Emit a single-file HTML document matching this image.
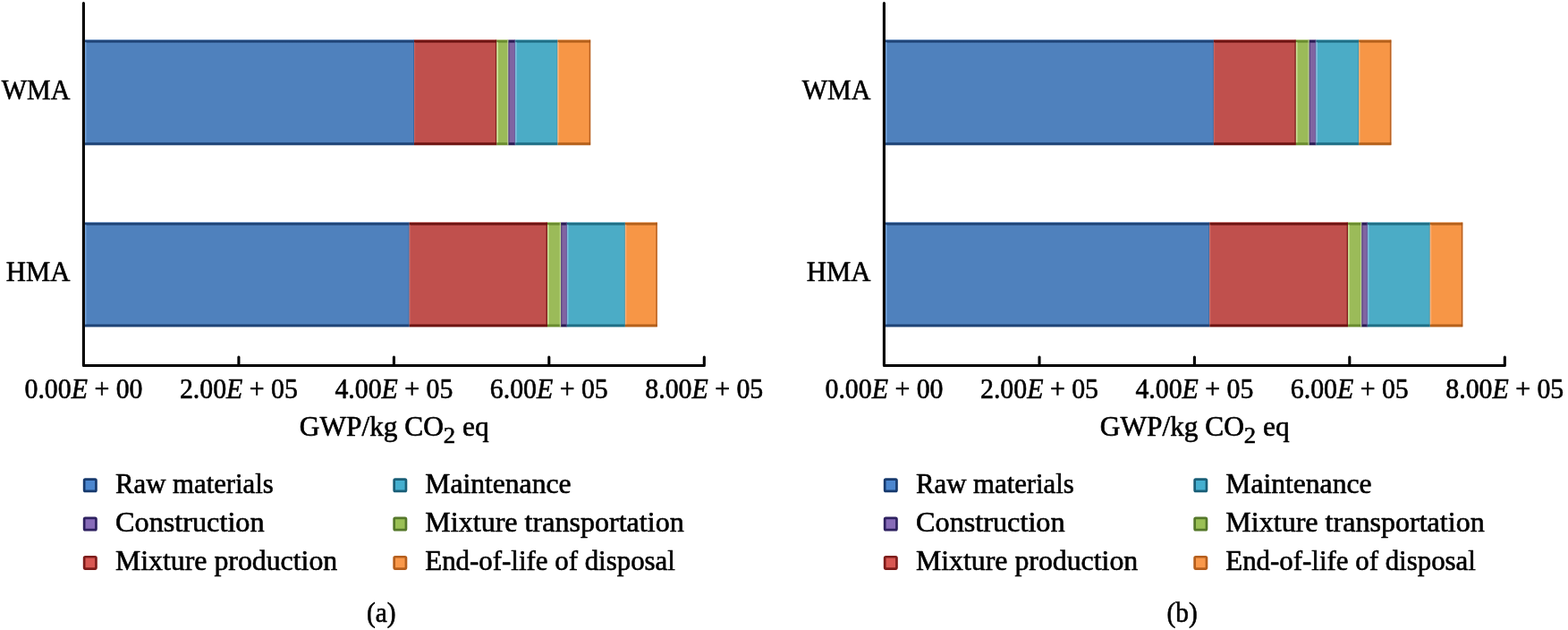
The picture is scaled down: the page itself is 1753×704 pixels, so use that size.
<!DOCTYPE html>
<html lang="en">
<head>
<meta charset="utf-8">
<title>GWP of WMA and HMA</title>
<style>
html,body{margin:0;padding:0;background:#fff;}
body{width:1753px;height:704px;overflow:hidden;}
svg{display:block;filter:blur(0.45px);}
text{font-family:"Liberation Serif",serif;fill:#000;stroke:#000;stroke-width:0.6px;stroke-linejoin:round;}
</style>
</head>
<body>
<svg width="1753" height="704" viewBox="0 0 1753 704">
<defs>
<linearGradient id="g_blue" x1="0" y1="0" x2="0" y2="1">
<stop offset="0" stop-color="#6f9bd1"/><stop offset="0.010" stop-color="#1f4477"/><stop offset="0.025" stop-color="#1f4477"/><stop offset="0.034" stop-color="#4f81bd"/>
<stop offset="0.969" stop-color="#4f81bd"/><stop offset="0.979" stop-color="#1f4477"/><stop offset="0.994" stop-color="#1f4477"/><stop offset="1" stop-color="#1f4477"/>
</linearGradient>
<linearGradient id="g_red" x1="0" y1="0" x2="0" y2="1">
<stop offset="0" stop-color="#cf6764"/><stop offset="0.010" stop-color="#6e1412"/><stop offset="0.025" stop-color="#6e1412"/><stop offset="0.034" stop-color="#c0504d"/>
<stop offset="0.969" stop-color="#c0504d"/><stop offset="0.979" stop-color="#6e1412"/><stop offset="0.994" stop-color="#6e1412"/><stop offset="1" stop-color="#6e1412"/>
</linearGradient>
<linearGradient id="g_green" x1="0" y1="0" x2="0" y2="1">
<stop offset="0" stop-color="#c3d88c"/><stop offset="0.010" stop-color="#6a8c2f"/><stop offset="0.025" stop-color="#6a8c2f"/><stop offset="0.034" stop-color="#9bbb59"/>
<stop offset="0.969" stop-color="#9bbb59"/><stop offset="0.979" stop-color="#6a8c2f"/><stop offset="0.994" stop-color="#6a8c2f"/><stop offset="1" stop-color="#6a8c2f"/>
</linearGradient>
<linearGradient id="g_purple" x1="0" y1="0" x2="0" y2="1">
<stop offset="0" stop-color="#9a82b8"/><stop offset="0.010" stop-color="#2a1d55"/><stop offset="0.025" stop-color="#2a1d55"/><stop offset="0.034" stop-color="#8064a2"/>
<stop offset="0.969" stop-color="#8064a2"/><stop offset="0.979" stop-color="#2a1d55"/><stop offset="0.994" stop-color="#2a1d55"/><stop offset="1" stop-color="#2a1d55"/>
</linearGradient>
<linearGradient id="g_cyan" x1="0" y1="0" x2="0" y2="1">
<stop offset="0" stop-color="#7dc3d8"/><stop offset="0.010" stop-color="#1f6f86"/><stop offset="0.025" stop-color="#1f6f86"/><stop offset="0.034" stop-color="#4bacc6"/>
<stop offset="0.969" stop-color="#4bacc6"/><stop offset="0.979" stop-color="#1f6f86"/><stop offset="0.994" stop-color="#1f6f86"/><stop offset="1" stop-color="#1f6f86"/>
</linearGradient>
<linearGradient id="g_orange" x1="0" y1="0" x2="0" y2="1">
<stop offset="0" stop-color="#f9b27a"/><stop offset="0.010" stop-color="#b5611b"/><stop offset="0.025" stop-color="#b5611b"/><stop offset="0.034" stop-color="#f79646"/>
<stop offset="0.969" stop-color="#f79646"/><stop offset="0.979" stop-color="#b5611b"/><stop offset="0.994" stop-color="#b5611b"/><stop offset="1" stop-color="#b5611b"/>
</linearGradient>
</defs>
<rect x="0" y="0" width="1753" height="704" fill="#fff"/>
<g>
<rect x="94.9" y="44.2" width="368.1" height="118.1" fill="url(#g_blue)"/>
<rect x="94.9" y="47.2" width="1.6" height="112.1" fill="#7aa7de" opacity="0.9"/>
<rect x="462.0" y="44.7" width="1.0" height="117.1" fill="#2a4f86" opacity="0.5"/>
<rect x="463.0" y="44.2" width="92.4" height="118.1" fill="url(#g_red)"/>
<rect x="463.0" y="47.2" width="1.2" height="112.1" fill="#d0706d" opacity="0.6"/>
<rect x="553.9" y="44.7" width="1.5" height="117.1" fill="#6e1412" opacity="0.75"/>
<rect x="555.4" y="44.2" width="13.0" height="118.1" fill="url(#g_green)"/>
<rect x="555.4" y="47.2" width="1.6" height="112.1" fill="#cfe29a" opacity="0.95"/>
<rect x="567.1" y="44.7" width="1.3" height="117.1" fill="#c6dba0" opacity="0.8"/>
<rect x="568.4" y="44.2" width="7.8" height="118.1" fill="url(#g_purple)"/>
<rect x="568.4" y="47.2" width="1.2" height="112.1" fill="#3c2c66" opacity="0.6"/>
<rect x="575.0" y="44.7" width="1.2" height="117.1" fill="#5f5f9e" opacity="0.6"/>
<rect x="576.2" y="44.2" width="47.3" height="118.1" fill="url(#g_cyan)"/>
<rect x="576.2" y="47.2" width="1.5" height="112.1" fill="#86c0e0" opacity="0.9"/>
<rect x="622.5" y="44.7" width="1.0" height="117.1" fill="#2b7f99" opacity="0.5"/>
<rect x="623.5" y="44.2" width="36.7" height="118.1" fill="url(#g_orange)"/>
<rect x="623.5" y="47.2" width="1.4" height="112.1" fill="#fbb884" opacity="0.8"/>
<rect x="658.7" y="44.7" width="1.5" height="117.1" fill="#a9551a" opacity="0.8"/>
<rect x="94.9" y="248.2" width="362.8" height="117.2" fill="url(#g_blue)"/>
<rect x="94.9" y="251.2" width="1.6" height="111.2" fill="#7aa7de" opacity="0.9"/>
<rect x="456.7" y="248.7" width="1.0" height="116.2" fill="#2a4f86" opacity="0.5"/>
<rect x="457.7" y="248.2" width="154.3" height="117.2" fill="url(#g_red)"/>
<rect x="457.7" y="251.2" width="1.2" height="111.2" fill="#d0706d" opacity="0.6"/>
<rect x="610.5" y="248.7" width="1.5" height="116.2" fill="#6e1412" opacity="0.75"/>
<rect x="612.0" y="248.2" width="15.1" height="117.2" fill="url(#g_green)"/>
<rect x="612.0" y="251.2" width="1.6" height="111.2" fill="#cfe29a" opacity="0.95"/>
<rect x="625.8" y="248.7" width="1.3" height="116.2" fill="#c6dba0" opacity="0.8"/>
<rect x="627.1" y="248.2" width="6.9" height="117.2" fill="url(#g_purple)"/>
<rect x="627.1" y="251.2" width="1.2" height="111.2" fill="#3c2c66" opacity="0.6"/>
<rect x="632.8" y="248.7" width="1.2" height="116.2" fill="#5f5f9e" opacity="0.6"/>
<rect x="634.0" y="248.2" width="64.9" height="117.2" fill="url(#g_cyan)"/>
<rect x="634.0" y="251.2" width="1.5" height="111.2" fill="#86c0e0" opacity="0.9"/>
<rect x="697.9" y="248.7" width="1.0" height="116.2" fill="#2b7f99" opacity="0.5"/>
<rect x="698.9" y="248.2" width="35.9" height="117.2" fill="url(#g_orange)"/>
<rect x="698.9" y="251.2" width="1.4" height="111.2" fill="#fbb884" opacity="0.8"/>
<rect x="733.3" y="248.7" width="1.5" height="116.2" fill="#a9551a" opacity="0.8"/>
<path d="M93.4 3.6 V408.5 H787.3 V399.0" fill="none" stroke="#000" stroke-width="3.1" stroke-linejoin="round" stroke-linecap="round"/>
<path d="M266.9 399.0 V408.5" stroke="#000" stroke-width="3.1" stroke-linecap="round" fill="none"/>
<path d="M440.4 399.0 V408.5" stroke="#000" stroke-width="3.1" stroke-linecap="round" fill="none"/>
<path d="M613.8 399.0 V408.5" stroke="#000" stroke-width="3.1" stroke-linecap="round" fill="none"/>
<text x="27.5" y="445.2" font-size="31.5" text-anchor="start" textLength="132.0" lengthAdjust="spacingAndGlyphs">0.00<tspan font-style="italic">E</tspan> + 00</text>
<text x="200.9" y="445.2" font-size="31.5" text-anchor="start" textLength="132.0" lengthAdjust="spacingAndGlyphs">2.00<tspan font-style="italic">E</tspan> + 05</text>
<text x="374.4" y="445.2" font-size="31.5" text-anchor="start" textLength="132.0" lengthAdjust="spacingAndGlyphs">4.00<tspan font-style="italic">E</tspan> + 05</text>
<text x="547.8" y="445.2" font-size="31.5" text-anchor="start" textLength="132.0" lengthAdjust="spacingAndGlyphs">6.00<tspan font-style="italic">E</tspan> + 05</text>
<text x="721.3" y="445.2" font-size="31.5" text-anchor="start" textLength="132.0" lengthAdjust="spacingAndGlyphs">8.00<tspan font-style="italic">E</tspan> + 05</text>
<text x="334.8" y="487.2" font-size="30.5" text-anchor="start" textLength="211.8" lengthAdjust="spacingAndGlyphs">GWP/kg CO<tspan font-size="26" dy="8">2</tspan><tspan dy="-8"> eq</tspan></text>
<text x="1.8" y="110.8" font-size="30.5" text-anchor="start" textLength="76.6" lengthAdjust="spacingAndGlyphs">WMA</text>
<text x="6.8" y="314.4" font-size="30.5" text-anchor="start" textLength="71.6" lengthAdjust="spacingAndGlyphs">HMA</text>
<rect x="94.15" y="535.65" width="13.30" height="13.30" rx="1.2" fill="#4b86cf" stroke="#173a6e" stroke-width="2.7"/>
<text x="129.0" y="551.1" font-size="30.5" text-anchor="start" textLength="176.8" lengthAdjust="spacingAndGlyphs">Raw materials</text>
<rect x="94.15" y="578.85" width="13.30" height="13.30" rx="1.2" fill="#876bb8" stroke="#2e2160" stroke-width="2.7"/>
<text x="129.0" y="594.1" font-size="30.5" text-anchor="start" textLength="166.6" lengthAdjust="spacingAndGlyphs">Construction</text>
<rect x="94.15" y="622.25" width="13.30" height="13.30" rx="1.2" fill="#d85752" stroke="#7d1c1a" stroke-width="2.7"/>
<text x="129.0" y="636.9" font-size="30.5" text-anchor="start" textLength="248.2" lengthAdjust="spacingAndGlyphs">Mixture production</text>
<rect x="440.65" y="535.65" width="13.30" height="13.30" rx="1.2" fill="#45afcf" stroke="#1a5f78" stroke-width="2.7"/>
<text x="475.3" y="551.1" font-size="30.5" text-anchor="start" textLength="163.2" lengthAdjust="spacingAndGlyphs">Maintenance</text>
<rect x="440.65" y="578.85" width="13.30" height="13.30" rx="1.2" fill="#9ac055" stroke="#55782a" stroke-width="2.7"/>
<text x="475.3" y="594.1" font-size="30.5" text-anchor="start" textLength="289.4" lengthAdjust="spacingAndGlyphs">Mixture transportation</text>
<rect x="440.65" y="622.25" width="13.30" height="13.30" rx="1.2" fill="#f9984a" stroke="#b55e1c" stroke-width="2.7"/>
<text x="475.3" y="636.9" font-size="30.5" text-anchor="start" textLength="279.6" lengthAdjust="spacingAndGlyphs">End-of-life of disposal</text>
<text x="409.9" y="695.2" font-size="30.5" text-anchor="start" textLength="32.6" lengthAdjust="spacingAndGlyphs">(a)</text>
</g>
<g>
<rect x="989.9" y="44.2" width="367.0" height="118.1" fill="url(#g_blue)"/>
<rect x="989.9" y="47.2" width="1.6" height="112.1" fill="#7aa7de" opacity="0.9"/>
<rect x="1355.9" y="44.7" width="1.0" height="117.1" fill="#2a4f86" opacity="0.5"/>
<rect x="1356.9" y="44.2" width="92.0" height="118.1" fill="url(#g_red)"/>
<rect x="1356.9" y="47.2" width="1.2" height="112.1" fill="#d0706d" opacity="0.6"/>
<rect x="1447.4" y="44.7" width="1.5" height="117.1" fill="#6e1412" opacity="0.75"/>
<rect x="1448.9" y="44.2" width="14.8" height="118.1" fill="url(#g_green)"/>
<rect x="1448.9" y="47.2" width="1.6" height="112.1" fill="#cfe29a" opacity="0.95"/>
<rect x="1462.4" y="44.7" width="1.3" height="117.1" fill="#c6dba0" opacity="0.8"/>
<rect x="1463.7" y="44.2" width="7.8" height="118.1" fill="url(#g_purple)"/>
<rect x="1463.7" y="47.2" width="1.2" height="112.1" fill="#3c2c66" opacity="0.6"/>
<rect x="1470.3" y="44.7" width="1.2" height="117.1" fill="#5f5f9e" opacity="0.6"/>
<rect x="1471.5" y="44.2" width="47.6" height="118.1" fill="url(#g_cyan)"/>
<rect x="1471.5" y="47.2" width="1.5" height="112.1" fill="#86c0e0" opacity="0.9"/>
<rect x="1518.1" y="44.7" width="1.0" height="117.1" fill="#2b7f99" opacity="0.5"/>
<rect x="1519.1" y="44.2" width="36.3" height="118.1" fill="url(#g_orange)"/>
<rect x="1519.1" y="47.2" width="1.4" height="112.1" fill="#fbb884" opacity="0.8"/>
<rect x="1553.9" y="44.7" width="1.5" height="117.1" fill="#a9551a" opacity="0.8"/>
<rect x="989.9" y="248.2" width="362.4" height="117.2" fill="url(#g_blue)"/>
<rect x="989.9" y="251.2" width="1.6" height="111.2" fill="#7aa7de" opacity="0.9"/>
<rect x="1351.3" y="248.7" width="1.0" height="116.2" fill="#2a4f86" opacity="0.5"/>
<rect x="1352.3" y="248.2" width="154.8" height="117.2" fill="url(#g_red)"/>
<rect x="1352.3" y="251.2" width="1.2" height="111.2" fill="#d0706d" opacity="0.6"/>
<rect x="1505.6" y="248.7" width="1.5" height="116.2" fill="#6e1412" opacity="0.75"/>
<rect x="1507.1" y="248.2" width="15.2" height="117.2" fill="url(#g_green)"/>
<rect x="1507.1" y="251.2" width="1.6" height="111.2" fill="#cfe29a" opacity="0.95"/>
<rect x="1521.0" y="248.7" width="1.3" height="116.2" fill="#c6dba0" opacity="0.8"/>
<rect x="1522.3" y="248.2" width="6.7" height="117.2" fill="url(#g_purple)"/>
<rect x="1522.3" y="251.2" width="1.2" height="111.2" fill="#3c2c66" opacity="0.6"/>
<rect x="1527.8" y="248.7" width="1.2" height="116.2" fill="#5f5f9e" opacity="0.6"/>
<rect x="1529.0" y="248.2" width="69.8" height="117.2" fill="url(#g_cyan)"/>
<rect x="1529.0" y="251.2" width="1.5" height="111.2" fill="#86c0e0" opacity="0.9"/>
<rect x="1597.8" y="248.7" width="1.0" height="116.2" fill="#2b7f99" opacity="0.5"/>
<rect x="1598.8" y="248.2" width="36.5" height="117.2" fill="url(#g_orange)"/>
<rect x="1598.8" y="251.2" width="1.4" height="111.2" fill="#fbb884" opacity="0.8"/>
<rect x="1633.8" y="248.7" width="1.5" height="116.2" fill="#a9551a" opacity="0.8"/>
<path d="M988.4 3.6 V408.5 H1682.3 V399.0" fill="none" stroke="#000" stroke-width="3.1" stroke-linejoin="round" stroke-linecap="round"/>
<path d="M1162.0 399.0 V408.5" stroke="#000" stroke-width="3.1" stroke-linecap="round" fill="none"/>
<path d="M1335.4 399.0 V408.5" stroke="#000" stroke-width="3.1" stroke-linecap="round" fill="none"/>
<path d="M1508.8 399.0 V408.5" stroke="#000" stroke-width="3.1" stroke-linecap="round" fill="none"/>
<text x="922.5" y="445.2" font-size="31.5" text-anchor="start" textLength="132.0" lengthAdjust="spacingAndGlyphs">0.00<tspan font-style="italic">E</tspan> + 00</text>
<text x="1096.0" y="445.2" font-size="31.5" text-anchor="start" textLength="132.0" lengthAdjust="spacingAndGlyphs">2.00<tspan font-style="italic">E</tspan> + 05</text>
<text x="1269.4" y="445.2" font-size="31.5" text-anchor="start" textLength="132.0" lengthAdjust="spacingAndGlyphs">4.00<tspan font-style="italic">E</tspan> + 05</text>
<text x="1442.8" y="445.2" font-size="31.5" text-anchor="start" textLength="132.0" lengthAdjust="spacingAndGlyphs">6.00<tspan font-style="italic">E</tspan> + 05</text>
<text x="1616.3" y="445.2" font-size="31.5" text-anchor="start" textLength="132.0" lengthAdjust="spacingAndGlyphs">8.00<tspan font-style="italic">E</tspan> + 05</text>
<text x="1229.8" y="487.2" font-size="30.5" text-anchor="start" textLength="211.8" lengthAdjust="spacingAndGlyphs">GWP/kg CO<tspan font-size="26" dy="8">2</tspan><tspan dy="-8"> eq</tspan></text>
<text x="896.8" y="110.8" font-size="30.5" text-anchor="start" textLength="76.6" lengthAdjust="spacingAndGlyphs">WMA</text>
<text x="901.8" y="314.4" font-size="30.5" text-anchor="start" textLength="71.6" lengthAdjust="spacingAndGlyphs">HMA</text>
<rect x="989.15" y="535.65" width="13.30" height="13.30" rx="1.2" fill="#4b86cf" stroke="#173a6e" stroke-width="2.7"/>
<text x="1024.0" y="551.1" font-size="30.5" text-anchor="start" textLength="176.8" lengthAdjust="spacingAndGlyphs">Raw materials</text>
<rect x="989.15" y="578.85" width="13.30" height="13.30" rx="1.2" fill="#876bb8" stroke="#2e2160" stroke-width="2.7"/>
<text x="1024.0" y="594.1" font-size="30.5" text-anchor="start" textLength="166.6" lengthAdjust="spacingAndGlyphs">Construction</text>
<rect x="989.15" y="622.25" width="13.30" height="13.30" rx="1.2" fill="#d85752" stroke="#7d1c1a" stroke-width="2.7"/>
<text x="1024.0" y="636.9" font-size="30.5" text-anchor="start" textLength="248.2" lengthAdjust="spacingAndGlyphs">Mixture production</text>
<rect x="1335.65" y="535.65" width="13.30" height="13.30" rx="1.2" fill="#45afcf" stroke="#1a5f78" stroke-width="2.7"/>
<text x="1370.3" y="551.1" font-size="30.5" text-anchor="start" textLength="163.2" lengthAdjust="spacingAndGlyphs">Maintenance</text>
<rect x="1335.65" y="578.85" width="13.30" height="13.30" rx="1.2" fill="#9ac055" stroke="#55782a" stroke-width="2.7"/>
<text x="1370.3" y="594.1" font-size="30.5" text-anchor="start" textLength="289.4" lengthAdjust="spacingAndGlyphs">Mixture transportation</text>
<rect x="1335.65" y="622.25" width="13.30" height="13.30" rx="1.2" fill="#f9984a" stroke="#b55e1c" stroke-width="2.7"/>
<text x="1370.3" y="636.9" font-size="30.5" text-anchor="start" textLength="279.6" lengthAdjust="spacingAndGlyphs">End-of-life of disposal</text>
<text x="1304.5" y="695.2" font-size="30.5" text-anchor="start" textLength="34.2" lengthAdjust="spacingAndGlyphs">(b)</text>
</g>
</svg>
</body>
</html>
